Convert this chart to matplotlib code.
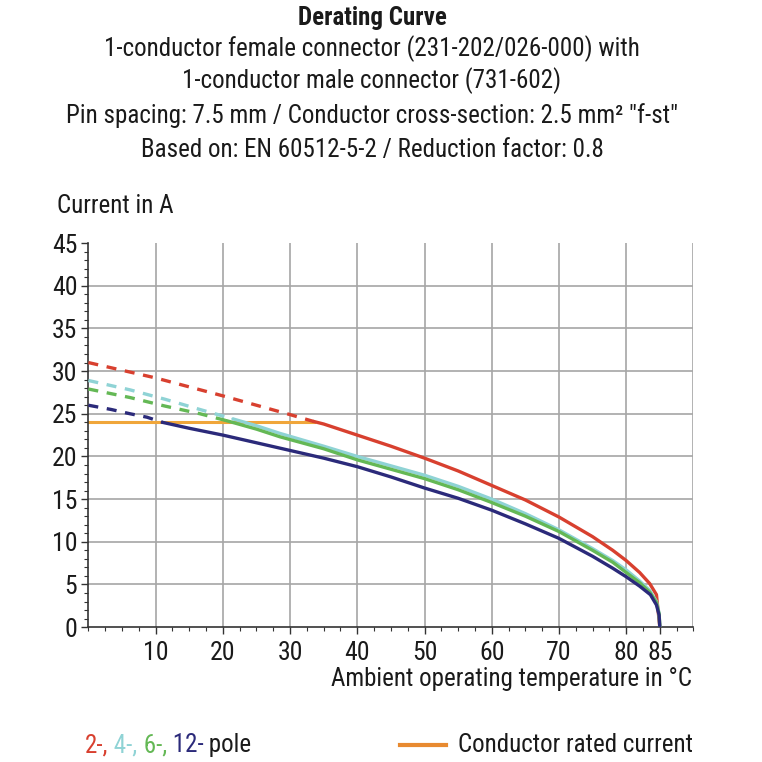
import matplotlib
matplotlib.use("Agg")
import matplotlib.pyplot as plt
from matplotlib.ticker import MultipleLocator, FixedLocator
from matplotlib import font_manager

# pick a condensed face if available
FONT, STRETCH = "Roboto", "normal"
cands = ["Roboto Condensed", "Liberation Sans Narrow", "Open Sans Condensed", "Noto Sans Condensed"]
names = {f.name for f in font_manager.fontManager.ttflist}
found = [c for c in cands if c in names]
if found:
    FONT = found[0]
else:
    for fam in ["Roboto", "Noto Sans", "Open Sans", "DejaVu Sans"]:
        if any(f.name == fam and str(f.stretch) in ("condensed", "semi-condensed", "75", "87.5", "semicondensed")
               for f in font_manager.fontManager.ttflist):
            FONT, STRETCH = fam, "condensed"
            break
plt.rcParams["font.family"] = [FONT, "DejaVu Sans"]
plt.rcParams["font.stretch"] = STRETCH

# ---- data ----
red_dash_T = [0, 10, 20, 30, 33.5]
red_dash_I = [31.0, 29.2, 27.1, 24.9, 24.1]
red_T = [33.5, 35, 40, 45, 50, 55, 60, 65, 70, 75, 78, 80, 82, 83.5, 84.5, 85]
red_I = [24.1, 23.8, 22.5, 21.2, 19.8, 18.3, 16.6, 14.9, 12.9, 10.6, 9.0, 7.8, 6.4, 5.1, 3.8, 0]

cyan_dash_T = [0, 6.2, 11.4, 16.6, 21.5]
cyan_dash_I = [28.9, 27.8, 26.7, 25.5, 24.4]
cyan_T = [21.5, 25, 28.5, 35, 40, 45, 50, 55, 60, 65, 70, 75, 78, 80, 82, 83.5, 84.5, 84.9, 85]
cyan_I = [24.4, 23.6, 22.7, 21.2, 20.0, 18.9, 17.8, 16.5, 15.0, 13.3, 11.4, 9.2, 7.8, 6.7, 5.4, 4.3, 3.0, 1.6, 0]

green_dash_T = [0, 6.2, 11.4, 16.6, 20.5]
green_dash_I = [27.9, 26.9, 25.9, 25.0, 24.2]
green_T = [20.5, 25, 28.5, 35, 40, 45, 50, 55, 60, 65, 70, 75, 78, 80, 82, 83.5, 84.5, 84.9, 85]
green_I = [24.2, 23.2, 22.3, 20.9, 19.6, 18.5, 17.4, 16.1, 14.6, 13.0, 11.2, 9.0, 7.6, 6.4, 5.2, 4.1, 2.9, 1.5, 0]

blue_dash_T = [0, 3.4, 6.2, 8.7, 11]
blue_dash_I = [26.0, 25.5, 25.0, 24.6, 24.0]
blue_T = [11, 15, 20, 25, 30, 35, 40, 45, 50, 55, 60, 65, 70, 75, 78, 80, 82, 83.6, 84.5, 84.9, 85]
blue_I = [24.0, 23.3, 22.5, 21.6, 20.7, 19.8, 18.8, 17.6, 16.3, 15.1, 13.7, 12.1, 10.4, 8.3, 6.9, 5.9, 4.8, 3.8, 2.6, 1.4, 0]

rated_T = [0, 33.5]
rated_I = [24, 24]

x_ticks = [10, 20, 30, 40, 50, 60, 70, 80, 85]
y_ticks = [0, 5, 10, 15, 20, 25, 30, 35, 40, 45]

RED = "#d8402f"
CYAN = "#8fd3d5"
GREEN = "#64b855"
NAVY = "#2b2a7a"
ORANGE = "#f0a63a"
ORANGE_LEG = "#e88a30"
TXT = "#1a1a1a"
FS = 18

fig = plt.figure(figsize=(7.62, 7.62), dpi=100)
ax = fig.add_axes([0.116, 0.177, 0.794, 0.504])

ax.set_xlim(0, 90)
ax.set_ylim(0, 45)

for x in [10, 20, 30, 40, 50, 60, 70, 80, 90]:
    ax.axvline(x, color="#a6a6a6", lw=1.2, zorder=0)
for y in [5, 10, 15, 20, 25, 30, 35, 40]:
    ax.axhline(y, color="#a6a6a6", lw=1.2, zorder=0)

lw = 2.4
dash = (0, (3.0, 2.6))
ax.plot(rated_T, rated_I, color=ORANGE, lw=2.2, zorder=2)
for dT, dI, T, I, c in [(red_dash_T, red_dash_I, red_T, red_I, RED),
                        (cyan_dash_T, cyan_dash_I, cyan_T, cyan_I, CYAN),
                        (green_dash_T, green_dash_I, green_T, green_I, GREEN),
                        (blue_dash_T, blue_dash_I, blue_T, blue_I, NAVY)]:
    ax.plot(dT, dI, color=c, lw=lw, ls=dash, zorder=3, solid_capstyle="butt")
    ax.plot(T, I, color=c, lw=lw, zorder=3, solid_capstyle="round", solid_joinstyle="round")

ax.spines["top"].set_visible(False)
ax.spines["right"].set_visible(False)
for s in ["left", "bottom"]:
    ax.spines[s].set_color("#333333")
    ax.spines[s].set_linewidth(1.2)

ax.xaxis.set_major_locator(FixedLocator(x_ticks))
ax.xaxis.set_minor_locator(MultipleLocator(2.5))
ax.yaxis.set_major_locator(FixedLocator(y_ticks))
ax.yaxis.set_minor_locator(MultipleLocator(1))
ax.tick_params(axis="both", which="major", labelsize=FS + 0.5, colors="#333333",
               labelcolor=TXT, length=5, width=1)
ax.tick_params(axis="both", which="minor", length=3, width=0.8, colors="#333333")
ax.tick_params(axis="x", pad=5)
ax.tick_params(axis="y", pad=3)

lines = [
    ("Derating Curve", "bold", 18),
    ("1-conductor female connector (231-202/026-000) with", "normal", 49),
    ("1-conductor male connector (731-602)", "normal", 81),
    ("Pin spacing: 7.5 mm / Conductor cross-section: 2.5 mm\u00b2 \"f-st\"", "normal", 116),
    ("Based on: EN 60512-5-2 / Reduction factor: 0.8", "normal", 150),
]
for txt, w, ypx in lines:
    fig.text(372 / 762, 1 - ypx / 762, txt, ha="center", va="center",
             fontsize=FS, fontweight=w, color=TXT)

fig.text(57 / 762, 1 - 206 / 762, "Current in A", ha="left", va="center",
         fontsize=FS, color=TXT)
fig.text(692 / 762, 1 - 679 / 762, "Ambient operating temperature in °C",
         ha="right", va="center", fontsize=FS, color=TXT)

parts = [("2-,", RED), (" 4-,", CYAN), (" 6-,", GREEN), (" 12-", NAVY), (" pole", TXT)]
renderer = fig.canvas.get_renderer()
xpos = 85 / 762
for t, c in parts:
    tx = fig.text(xpos, 1 - 745 / 762, t, ha="left", va="center", fontsize=FS, color=c)
    bb = tx.get_window_extent(renderer=renderer)
    xpos += bb.width / fig.bbox.width
fig.add_artist(plt.Line2D([400 / 762, 446 / 762], [1 - 745 / 762, 1 - 745 / 762],
                          color=ORANGE_LEG, lw=3, transform=fig.transFigure))
fig.text(458 / 762, 1 - 745 / 762, "Conductor rated current", ha="left", va="center",
         fontsize=FS, color=TXT)

fig.savefig("out.png", dpi=100, facecolor="white")
